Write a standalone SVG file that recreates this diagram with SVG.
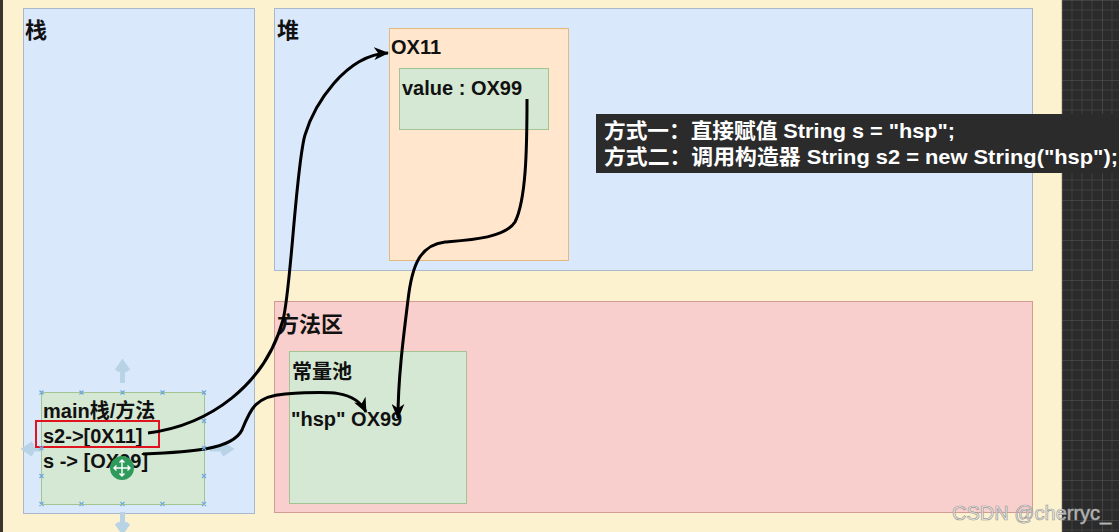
<svg xmlns="http://www.w3.org/2000/svg" width="1119" height="532" viewBox="0 0 1119 532">
<defs>
<style>
.lbl{font-family:"Liberation Sans","Noto Sans CJK SC",sans-serif;font-weight:bold;fill:#111;}
.h{font-size:22px;}
.t{font-size:20px;}
.box{font-family:"Liberation Sans","Noto Sans CJK SC",sans-serif;font-weight:bold;font-size:21px;fill:#fff;}
.conn{fill:none;stroke:#000;stroke-width:3;}
.hnd{stroke:#6fa8dc;stroke-width:1.2;fill:none;}
.ghost{stroke:#b9d3e6;stroke-width:5;fill:none;}
</style>
<marker id="arr" viewBox="0 0 14 12" refX="13" refY="6" markerWidth="15" markerHeight="13" markerUnits="userSpaceOnUse" orient="auto">
<path d="M0,0 L14,6 L0,12 L4,6 Z" fill="#000"/>
</marker>
<pattern id="grid" x="1062" y="0" width="40" height="40" patternUnits="userSpaceOnUse">
<rect width="40" height="40" fill="#2b2b2b"/>
<path d="M10,0V40M20,0V40M30,0V40M0,10H40M0,20H40M0,30H40" stroke="#444" stroke-width="0.8"/>
<path d="M0,0V40M0,0H40" stroke="#5a5a5a" stroke-width="1"/>
</pattern>
</defs>
<rect x="0" y="0" width="1119" height="532" fill="#fdf2cf"/>
<rect x="0" y="0" width="3" height="532" fill="#3b352c"/>
<rect x="1062" y="0" width="57" height="532" fill="url(#grid)"/>
<line x1="1061.5" y1="0" x2="1061.5" y2="532" stroke="#d8cfae" stroke-width="1"/>

<g id="stack">
<rect x="23.5" y="8.5" width="231" height="505" fill="#dae8fc" stroke="#a9b8cc"/>
<text class="lbl h" x="25" y="38">栈</text>
</g>
<g id="heap">
<rect x="274.5" y="8.5" width="758" height="262" fill="#dae8fc" stroke="#a9b8cc"/>
<text class="lbl h" x="277" y="38">堆</text>
</g>
<g id="method-area">
<rect x="274.5" y="301.5" width="758" height="211" fill="#f8cfcc" stroke="#d39b96"/>
<text class="lbl h" x="277" y="332">方法区</text>
</g>
<g id="ox11">
<rect x="389.5" y="28.5" width="179" height="232" fill="#ffe6cc" stroke="#e2b97e"/>
<text class="lbl t" x="391" y="54">OX11</text>
</g>
<g id="value">
<rect x="399.5" y="68.5" width="149" height="61" fill="#d5e8d4" stroke="#a3c393"/>
<text class="lbl t" x="402" y="95">value : OX99</text>
</g>
<g id="const-pool">
<rect x="289.5" y="351.5" width="177" height="152" fill="#d5e8d4" stroke="#a3c393"/>
<text class="lbl t" x="292" y="379">常量池</text>
<text class="lbl t" x="291" y="426">"hsp" OX99</text>
</g>

<g id="selection-ghosts">
<path class="ghost" d="M122.5,383V366M117,371L122.5,363L128,371"/>
<path class="ghost" d="M45,449H28M33,443.5L25,449L33,454.5"/>
<path class="ghost" d="M210,449H227M222,443.5L230,449L222,454.5"/>
<path class="ghost" d="M122.5,512V528M117,523L122.5,531L128,523"/>
</g>

<g id="main">
<rect x="41.5" y="392.5" width="163" height="112" fill="#d5e8d4" stroke="#a3c393"/>
<text class="lbl t" x="43" y="418">main栈/方法</text>
<text class="lbl t" x="43" y="443">s2-&gt;[0X11]</text>
<text class="lbl t" x="43" y="468">s -&gt; [OX99]</text>
<rect x="36" y="421" width="123" height="26" fill="none" stroke="#e0141e" stroke-width="2"/>
</g>

<g id="connectors">
<path class="conn" marker-end="url(#arr)" d="M148,433 C210,425 265,385 283,320 C291,290 296,165 305,135 C314,105 345,55 388,53"/>
<path class="conn" marker-end="url(#arr)" d="M143,454 C190,452 232,450 242,430 C250,410 255,396 285,394 C330,391 355,390 366,412"/>
<path class="conn" marker-end="url(#arr)" d="M527,99 C527,150 526,200 515,222 C505,238 470,240 445,242 C420,245 412,265 408,300 C403,340 398,380 398,418"/>
</g>

<g id="handles">
<path class="hnd" d="M39.5,390.5l4,4m0,-4l-4,4 M79.5,390.5l4,4m0,-4l-4,4 M120.5,390.5l4,4m0,-4l-4,4 M160.5,390.5l4,4m0,-4l-4,4 M202,390.5l4,4m0,-4l-4,4"/>
<path class="hnd" d="M39.5,502l4,4m0,-4l-4,4 M79.5,502l4,4m0,-4l-4,4 M120.5,502l4,4m0,-4l-4,4 M160.5,502l4,4m0,-4l-4,4 M202,502l4,4m0,-4l-4,4"/>
<path class="hnd" d="M202,419l4,4m0,-4l-4,4 M202,446l4,4m0,-4l-4,4 M202,474l4,4m0,-4l-4,4 M39.5,446l4,4m0,-4l-4,4 M39.5,474l4,4m0,-4l-4,4"/>
<circle cx="122" cy="468" r="12" fill="#2e9a5c"/>
<path d="M122,460V476M114,468H130M119.5,462.5L122,460L124.5,462.5M119.5,473.5L122,476L124.5,473.5M116.5,465.5L114,468L116.5,470.5M127.5,465.5L130,468L127.5,470.5" stroke="#fff" stroke-width="1.4" fill="none"/>
</g>

<g id="note">
<rect x="596" y="114" width="523" height="59" fill="#2b2b2b"/>
<text class="box" x="604" y="138" textLength="351" lengthAdjust="spacingAndGlyphs">方式一：直接赋值 String s = "hsp";</text>
<text class="box" x="604" y="164" textLength="514" lengthAdjust="spacingAndGlyphs">方式二：调用构造器 String s2 = new String("hsp");</text>
</g>

<text x="952" y="520" font-family="Liberation Sans, sans-serif" font-size="20" fill="#f2f2f2" fill-opacity="0.75" stroke="#9a9a9a" stroke-width="0.7">CSDN @cherryc_</text>
</svg>
